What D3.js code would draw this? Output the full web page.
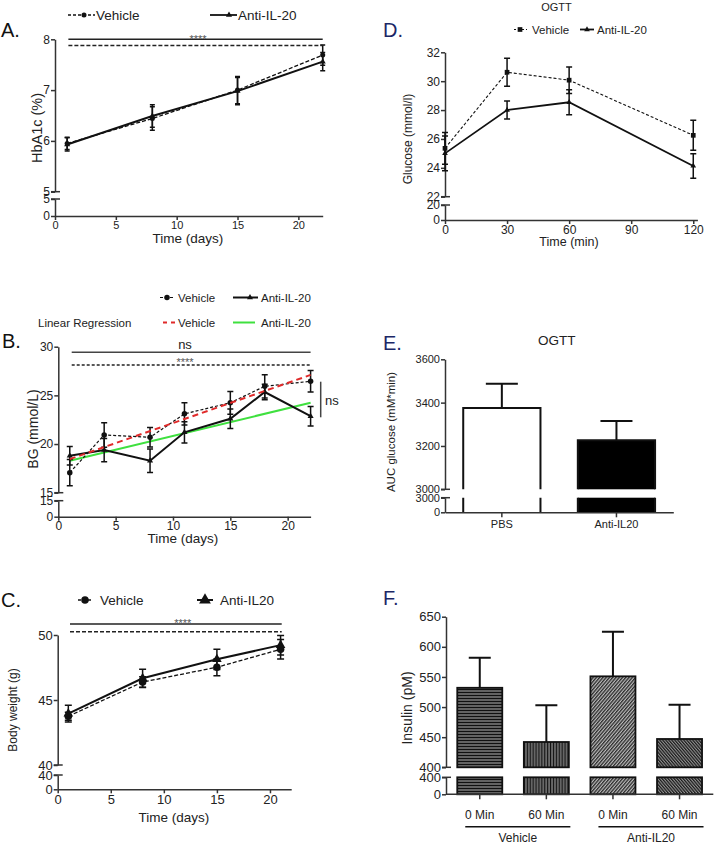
<!DOCTYPE html>
<html>
<head>
<meta charset="utf-8">
<title>Anti-IL-20 figure</title>
<script src="https://d3js.org/d3.v7.min.js"></script>
<style>
  body { margin: 0; background: #fff; }
  svg { font-family: "Liberation Sans", Arial, sans-serif; }
  .axis path, .axis line { stroke: #333; stroke-width: 1.5px; }
  .axis text { fill: #222; }
  .letter { font-size: 20px; fill: #111; }
  .navy { fill: #1b2766; }
  .lbl { fill: #222; }
</style>
</head>
<body>
<svg width="716" height="846"></svg>
<script>
// ---- data ----
// A: HbA1c
const daysA = [1, 8, 15, 22];
const hbaVehicle = [5.95, 6.44, 7.0, 7.69];
const hbaVehicleSem = [0.12, 0.23, 0.27, 0.2];
const hbaAnti = [5.93, 6.49, 6.98, 7.56];
const hbaAntiSem = [0.13, 0.22, 0.27, 0.18];
const hbaTicks = [5, 6, 7, 8];

// B: blood glucose
const daysB = [1, 4, 8, 11, 15, 18, 22];
const bgVehicle = [17.06, 20.93, 20.69, 23.1, 24.24, 25.93, 26.45];
const bgVehicleSem = [1.35, 1.25, 1.0, 1.15, 1.17, 1.2, 1.1];
const bgAnti = [18.79, 19.38, 18.28, 21.2, 22.59, 25.34, 22.86];
const bgAntiSem = [0.95, 1.2, 1.2, 1.1, 1.0, 0.8, 1.0];
const regDays = [1, 22];
const regVehicle = [18.45, 27.1];
const regAnti = [18.28, 24.24];
const bgTicks = [15, 20, 25, 30];

// C: body weight
const daysC = [1, 8, 15, 21];
const bwVehicle = [43.75, 46.38, 47.52, 48.9];
const bwVehicleSem = [0.3, 0.4, 0.65, 0.75];
const bwAnti = [43.95, 46.67, 48.13, 49.22];
const bwAntiSem = [0.65, 0.7, 0.78, 0.75];
const bwTicks = [40, 45, 50];

const dayTicks = [0, 5, 10, 15, 20];

// D: OGTT curve
const minutes = [0, 30, 60, 120];
const gluVehicle = [25.35, 30.62, 30.07, 26.25];
const gluVehicleSem = [1.1, 0.97, 0.92, 1.04];
const gluAnti = [25.0, 28.0, 28.54, 24.13];
const gluAntiSem = [1.2, 0.62, 0.87, 0.85];
const gluTicks = [22, 24, 26, 28, 30, 32];
const minTicks = [0, 30, 60, 90, 120];

// E: AUC
const aucGroups = ["PBS", "Anti-IL20"];
const aucMean = [3375, 3226];
const aucSem = [112, 89];
const aucTicks = [3000, 3200, 3400, 3600];

// F: insulin
const insTime = ["0 Min", "60 Min", "0 Min", "60 Min"];
const insGroup = ["Vehicle", "Vehicle", "Anti-IL20", "Anti-IL20"];
const insMean = [532, 442, 551, 447];
const insSem = [50, 61, 74, 57];
const insTicks = [400, 450, 500, 550, 600, 650];

const svg = d3.select('svg');
const fmt = d3.format('d');

// ---- patterns for panel F ----
const defs = svg.append('defs');
function stripes(id, w, bg, fg, angle, lw) {
  const p = defs.append('pattern').attr('id', id)
    .attr('patternUnits', 'userSpaceOnUse').attr('width', w).attr('height', 8)
    .attr('patternTransform', `rotate(${angle})`);
  p.append('rect').attr('width', w).attr('height', 8).attr('fill', bg);
  p.append('rect').attr('x', 0.5).attr('width', lw).attr('height', 8).attr('fill', fg);
}
stripes('p0', 3, '#111', '#b5b5b5', 90, 1);
stripes('p1', 2.9, '#111', '#b5b5b5', 0, 1);
stripes('p2', 2.5, '#2a2a2a', '#c8c8c8', 40, 1.1);
stripes('p3', 2.3, '#1a1a1a', '#a8a8a8', -40, 0.9);
const insFill = ['url(#p0)', 'url(#p1)', 'url(#p2)', 'url(#p3)'];

// ---- helpers ----
function styleAxis(a, fs) {
  a.attr('font-family', null).attr('font-size', fs);
  return a;
}
function yBroken(g, x0, up, low, upTicks, lowTicks, fs) {
  styleAxis(g.append('g').attr('class', 'axis').attr('transform', `translate(${x0},0)`)
    .call(d3.axisLeft(up).tickValues(upTicks).tickFormat(fmt).tickSize(4).tickPadding(1).tickSizeOuter(0)), fs);
  styleAxis(g.append('g').attr('class', 'axis').attr('transform', `translate(${x0},0)`)
    .call(d3.axisLeft(low).tickValues(lowTicks).tickFormat(fmt).tickSize(4).tickPadding(1).tickSizeOuter(0)), fs);
  [up.range()[0], low.range()[1]].forEach(yy => {
    g.append('line').attr('x1', x0 - 4).attr('x2', x0 + 5).attr('y1', yy).attr('y2', yy)
      .attr('stroke', '#333').attr('stroke-width', 1.5);
  });
}
function xAxis(g, x, y0, ticks, fs) {
  return styleAxis(g.append('g').attr('class', 'axis').attr('transform', `translate(0,${y0})`)
    .call(d3.axisBottom(x).tickValues(ticks).tickSize(4).tickPadding(1).tickSizeOuter(0)), fs);
}
function series(g, x, y, xs, ys, sems, o) {
  const pts = xs.map((d, i) => [x(d), y(ys[i])]);
  g.append('path').attr('d', d3.line()(pts)).attr('fill', 'none')
    .attr('stroke', '#111').attr('stroke-width', o.lw)
    .attr('stroke-dasharray', o.dash || null);
  xs.forEach((d, i) => {
    const cx = x(d), t = y(ys[i] + sems[i]), b = y(ys[i] - sems[i]);
    g.append('path').attr('d', `M${cx},${t}V${b}M${cx - o.cap},${t}H${cx + o.cap}M${cx - o.cap},${b}H${cx + o.cap}`)
      .attr('stroke', '#111').attr('stroke-width', 1.5).attr('fill', 'none');
  });
  g.selectAll(null).data(pts).join('path')
    .attr('transform', p => `translate(${p[0]},${p[1]})`)
    .attr('d', d3.symbol(o.sym, o.size)).attr('fill', '#111');
}
function legendItem(g, x1, x2, y, mx, o, text, tx, fs) {
  g.append('line').attr('x1', x1).attr('x2', x2).attr('y1', y).attr('y2', y)
    .attr('stroke', o.color || '#111').attr('stroke-width', o.lw).attr('stroke-dasharray', o.dash || null);
  if (o.sym) g.append('path').attr('transform', `translate(${mx},${y})`)
    .attr('d', d3.symbol(o.sym, o.size)).attr('fill', '#111');
  g.append('text').attr('class', 'lbl').attr('x', tx).attr('y', y + fs * 0.36)
    .style('font-size', fs + 'px').text(text);
}
function yTitle(g, text, x, y, fs) {
  g.append('text').attr('class', 'lbl').attr('transform', `translate(${x},${y}) rotate(-90)`)
    .attr('text-anchor', 'middle').style('font-size', fs + 'px').text(text);
}
function text(g, t, x, y, fs, anchor, cls) {
  return g.append('text').attr('class', cls || 'lbl').attr('x', x).attr('y', y)
    .attr('text-anchor', anchor || 'start').style('font-size', fs + 'px').text(t);
}
function hline(g, x1, x2, y, dash, color) {
  g.append('line').attr('x1', x1).attr('x2', x2).attr('y1', y).attr('y2', y)
    .attr('stroke', color || '#222').attr('stroke-width', 1.5).attr('stroke-dasharray', dash || null);
}

// ---- Panel A ----
const gA = svg.append('g');
const xA = d3.scaleLinear().domain([0, 22]).range([55, 322.7]);
const yA = d3.scaleLinear().domain([5, 8]).range([191.7, 39.3]);
const yA0 = d3.scaleLinear().domain([0, 5]).range([216, 199]);
yBroken(gA, 55, yA, yA0, hbaTicks, [0, 5], 12);
xAxis(gA, xA, 216, dayTicks, 11);
series(gA, xA, yA, daysA, hbaVehicle, hbaVehicleSem, { lw: 1.3, dash: '4,2', cap: 2.5, sym: d3.symbolCircle, size: 20 });
series(gA, xA, yA, daysA, hbaAnti, hbaAntiSem, { lw: 2, cap: 2.5, sym: d3.symbolTriangle, size: 16 });
hline(gA, xA(1.1), xA(22), yA(8));
hline(gA, xA(1.1), xA(22), yA(7.88), '4,2');
text(gA, '****', 198, 42.5, 11, 'middle').style('fill', '#555');
text(gA, 'A.', 1, 36.5, 20, 'start', 'letter');
legendItem(gA, 68, 95, 15, 84, { lw: 1.3, dash: '3,2', sym: d3.symbolCircle, size: 20 }, 'Vehicle', 96, 13.5);
legendItem(gA, 210, 237, 15, 229, { lw: 1.8, sym: d3.symbolTriangle, size: 16 }, 'Anti-IL-20', 238, 13.5);
yTitle(gA, 'HbA1c (%)', 42, 128, 14.5);
text(gA, 'Time (days)', 188, 243, 13.5, 'middle');

// ---- Panel B ----
const gB = svg.append('g');
const xB = d3.scaleLinear().domain([0, 22]).range([58.3, 310.6]);
const yB = d3.scaleLinear().domain([15, 30]).range([492.7, 346.7]);
const yB0 = d3.scaleLinear().domain([0, 15]).range([516.7, 500.7]);
yBroken(gB, 58.3, yB, yB0, bgTicks, [0, 15], 12);
xAxis(gB, xB, 516.7, dayTicks, 12);
gB.append('path').attr('d', d3.line()(regDays.map((d, i) => [xB(d), yB(regAnti[i])])))
  .attr('stroke', '#3fe03f').attr('stroke-width', 2).attr('fill', 'none');
series(gB, xB, yB, daysB, bgVehicle, bgVehicleSem, { lw: 1.2, dash: '3,2', cap: 3, sym: d3.symbolCircle, size: 24 });
series(gB, xB, yB, daysB, bgAnti, bgAntiSem, { lw: 2, cap: 3, sym: d3.symbolTriangle, size: 16 });
gB.append('path').attr('d', d3.line()(regDays.map((d, i) => [xB(d), yB(regVehicle[i])])))
  .attr('stroke', '#e02a2a').attr('stroke-width', 2).attr('stroke-dasharray', '6,4').attr('fill', 'none');
hline(gB, 71.7, 310.6, 352.3, null, '#444');
text(gB, 'ns', 185, 349, 13, 'middle');
hline(gB, 71.7, 310.6, 365, '3,2');
text(gB, '****', 185, 366, 11, 'middle').style('fill', '#555');
gB.append('line').attr('x1', 320.7).attr('x2', 320.7).attr('y1', 381.7).attr('y2', 417.3)
  .attr('stroke', '#444').attr('stroke-width', 1.5);
text(gB, 'ns', 325, 405, 13);
text(gB, 'B.', 2, 348, 20, 'start', 'letter');
legendItem(gB, 160, 174, 297.5, 167, { lw: 1.2, dash: '3,2', sym: d3.symbolCircle, size: 24 }, 'Vehicle', 178, 11.5);
legendItem(gB, 233, 258, 297.5, 250, { lw: 2, sym: d3.symbolTriangle, size: 16 }, 'Anti-IL-20', 261, 11.5);
text(gB, 'Linear Regression', 38, 326.5, 11.5);
legendItem(gB, 163, 175, 322.5, 0, { lw: 2, dash: '4,4', color: '#e02a2a' }, 'Vehicle', 178, 11.5);
legendItem(gB, 233, 255, 322.5, 0, { lw: 2, color: '#3fe03f' }, 'Anti-IL-20', 261, 11.5);
yTitle(gB, 'BG  (mmol/L)', 38, 429, 14);
text(gB, 'Time (days)', 183, 543, 13.5, 'middle');

// ---- Panel C ----
const gC = svg.append('g');
const xC = d3.scaleLinear().domain([0, 22]).range([57.7, 291.2]);
const yC = d3.scaleLinear().domain([40, 50]).range([765, 635]);
const yC0 = d3.scaleLinear().domain([0, 40]).range([789.3, 775]);
yBroken(gC, 57.7, yC, yC0, bwTicks, [0, 40], 13);
xAxis(gC, xC, 789.3, dayTicks, 13);
series(gC, xC, yC, daysC, bwVehicle, bwVehicleSem, { lw: 1.3, dash: '4,2', cap: 3.5, sym: d3.symbolCircle, size: 45 });
series(gC, xC, yC, daysC, bwAnti, bwAntiSem, { lw: 2, cap: 3.5, sym: d3.symbolTriangle, size: 40 });
hline(gC, 70, 281.7, 624);
hline(gC, 70, 281.7, 631.7, '4,2');
text(gC, '****', 182.7, 627, 11, 'middle').style('fill', '#555');
text(gC, 'C.', 1, 606.5, 20, 'start', 'letter');
legendItem(gC, 78, 93, 600, 85, { lw: 1.3, dash: '3,2', sym: d3.symbolCircle, size: 45 }, 'Vehicle', 100, 13.5);
legendItem(gC, 197, 213, 600, 205, { lw: 2, sym: d3.symbolTriangle, size: 60 }, 'Anti-IL20', 220, 13.5);
yTitle(gC, 'Body weight (g)', 17, 710, 12);
text(gC, 'Time (days)', 174, 822, 13.5, 'middle');

// ---- Panel D ----
const gD = svg.append('g');
const xD = d3.scaleLinear().domain([0, 122]).range([445, 697.4]);
const yD = d3.scaleLinear().domain([22, 32]).range([196.7, 52.3]);
const yD0 = d3.scaleLinear().domain([0, 20]).range([220, 205]);
yBroken(gD, 445, yD, yD0, gluTicks, [0, 20], 12);
xAxis(gD, xD, 220, minTicks, 12);
series(gD, xD, yD, minutes, gluVehicle, gluVehicleSem, { lw: 1.1, dash: '3,2', cap: 3, sym: d3.symbolSquare, size: 22 });
series(gD, xD, yD, minutes, gluAnti, gluAntiSem, { lw: 1.8, cap: 3, sym: d3.symbolTriangle, size: 14 });
text(gD, 'OGTT', 556.5, 11, 11, 'middle');
text(gD, 'D.', 383, 36.5, 20, 'start', 'letter navy');
legendItem(gD, 514, 527, 29.5, 520, { lw: 1.1, dash: '2,2', sym: d3.symbolSquare, size: 22 }, 'Vehicle', 532, 11.5);
legendItem(gD, 580, 594, 29.5, 587, { lw: 1.8, sym: d3.symbolTriangle, size: 14 }, 'Anti-IL-20', 597, 11.5);
yTitle(gD, 'Glucose (mmol/l)', 412, 139, 12);
text(gD, 'Time (min)', 569, 246, 12.5, 'middle');

// ---- Panel E ----
const gE = svg.append('g');
const xE = d3.scaleBand().domain(aucGroups).range([445, 673.3]).paddingInner(0.326).paddingOuter(0.159);
const yE = d3.scaleLinear().domain([3000, 3600]).range([489.3, 359.3]);
const yE0 = d3.scaleLinear().domain([0, 3000]).range([512.3, 497.7]);
const aucFill = ['#fff', '#000'];
aucGroups.forEach((k, i) => {
  const x0 = xE(k), w = xE.bandwidth(), cx = x0 + w / 2;
  const top = yE(aucMean[i]), eb = yE(aucMean[i] + aucSem[i]);
  gE.append('path').attr('d', `M${cx},${top}V${eb}M${cx - 16},${eb}H${cx + 16}`)
    .attr('stroke', '#111').attr('stroke-width', 2);
  gE.append('rect').attr('x', x0).attr('y', top).attr('width', w).attr('height', yE(3000) - top)
    .attr('fill', aucFill[i]);
  gE.append('rect').attr('x', x0).attr('y', yE0(3000)).attr('width', w).attr('height', yE0(0) - yE0(3000))
    .attr('fill', aucFill[i]);
  gE.append('path').attr('d', `M${x0},${yE(3000)}V${top}H${x0 + w}V${yE(3000)}M${x0},${yE0(3000)}V${yE0(0)}M${x0 + w},${yE0(3000)}V${yE0(0)}`)
    .attr('stroke', '#111').attr('stroke-width', 2).attr('fill', 'none');
});
yBroken(gE, 445, yE, yE0, aucTicks, [0, 3000], 11);
styleAxis(gE.append('g').attr('class', 'axis').attr('transform', 'translate(0,512.3)')
  .call(d3.axisBottom(xE).tickSize(5).tickPadding(3).tickSizeOuter(0)), 11);
text(gE, 'OGTT', 556.7, 345, 13.5, 'middle');
text(gE, 'E.', 383, 350, 20, 'start', 'letter navy');
yTitle(gE, 'AUC glucose (mM*min)', 395, 432, 11.5);

// ---- Panel F ----
const gF = svg.append('g');
const insKeys = d3.range(insMean.length);
const xF = d3.scaleBand().domain(insKeys).range([446, 713.3]).paddingInner(0.324).paddingOuter(0.169);
const yF = d3.scaleLinear().domain([400, 650]).range([767.3, 616.7]);
const yF0 = d3.scaleLinear().domain([0, 400]).range([794.3, 777.3]);
insKeys.forEach(i => {
  const x0 = xF(i), w = xF.bandwidth(), cx = x0 + w / 2;
  const top = yF(insMean[i]), eb = yF(insMean[i] + insSem[i]);
  gF.append('path').attr('d', `M${cx},${top}V${eb}M${cx - 11},${eb}H${cx + 11}`)
    .attr('stroke', '#111').attr('stroke-width', 2);
  gF.append('rect').attr('x', x0).attr('y', top).attr('width', w).attr('height', yF(400) - top)
    .attr('fill', insFill[i]).attr('stroke', '#111').attr('stroke-width', 1.8);
  gF.append('rect').attr('x', x0).attr('y', yF0(400)).attr('width', w).attr('height', yF0(0) - yF0(400))
    .attr('fill', insFill[i]).attr('stroke', '#111').attr('stroke-width', 1.8);
  gF.append('line').attr('x1', cx).attr('x2', cx).attr('y1', yF0(0)).attr('y2', yF0(0) + 5)
    .attr('stroke', '#333').attr('stroke-width', 1.5);
  text(gF, insTime[i], cx, 819, 12, 'middle');
});
yBroken(gF, 446, yF, yF0, insTicks, [0, 400], 13);
gF.append('line').attr('x1', 446).attr('x2', 713.3).attr('y1', 794.3).attr('y2', 794.3)
  .attr('stroke', '#333').attr('stroke-width', 1.5);
Array.from(new Set(insGroup)).forEach(grp => {
  const idx = insKeys.filter(i => insGroup[i] === grp);
  const x1 = xF(idx[0]) + xF.bandwidth() / 2 - 14.5;
  const x2 = xF(idx[idx.length - 1]) + xF.bandwidth() / 2 + 24;
  hline(gF, x1, x2, 826.7, null, '#111');
  text(gF, grp, (x1 + x2) / 2, 842, 12, 'middle');
});
text(gF, 'F.', 383, 605, 20, 'start', 'letter navy');
yTitle(gF, 'Insulin (pM)', 412, 708, 14);
</script>
</body>
</html>
